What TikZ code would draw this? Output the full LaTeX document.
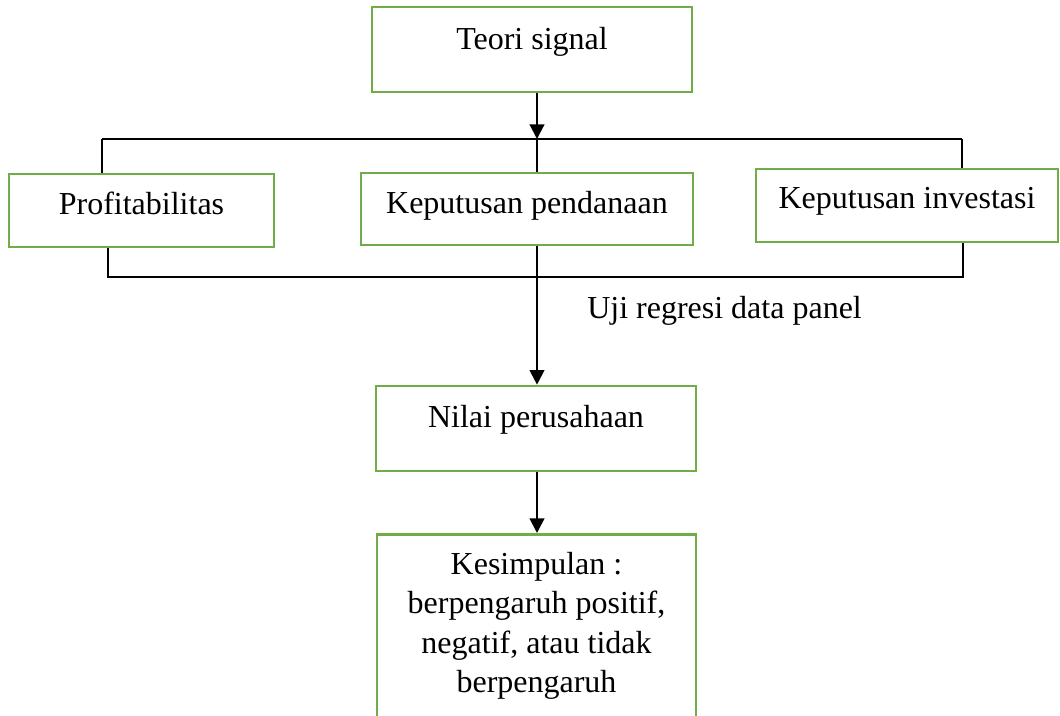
\documentclass[tikz,border=0pt]{standalone}
\usepackage{fontspec}
\setmainfont{Liberation Serif}
\usetikzlibrary{arrows.meta}
\definecolor{boxgreen}{RGB}{112,173,71}
\tikzset{
  greenbox/.style={draw=boxgreen, line width=2pt, rectangle, inner sep=0pt, fill=white,
    font=\fontsize{24}{29.5}\selectfont},
  thinline/.style={draw=black, line width=0.9pt},
  arrowline/.style={draw=black, line width=1.6pt, -{Triangle[length=11pt,width=11pt]}},
  plaintext/.style={inner sep=0pt, font=\fontsize{24}{29.5}\selectfont}
}
\begin{document}
\begin{tikzpicture}[x=0.75pt,y=-0.75pt]
\useasboundingbox (0,0) rectangle (1060,715);
\clip (0,0) rectangle (1060,715);
\fill[white] (0,0) rectangle (1060,715);

% boxes
\node[greenbox, minimum width=240pt, minimum height=63.75pt, text height=31.5pt, text depth=32.25pt] (ts) at (532,49.5) {Teori signal};
\node[greenbox, minimum width=198.75pt, minimum height=54.75pt, text height=30pt, text depth=24.75pt] (pr) at (141.5,210.5) {Profitabilitas};
\node[greenbox, minimum width=249pt, minimum height=54pt, text height=30pt, text depth=24pt] (kp) at (527,209) {Keputusan pendanaan};
\node[greenbox, minimum width=226.5pt, minimum height=54.75pt, text height=29.25pt, text depth=25.5pt] (ki) at (907,205.5) {Keputusan investasi};
\node[greenbox, minimum width=240pt, minimum height=63.75pt, text height=30.75pt, text depth=33pt] (np) at (536,428.5) {Nilai perusahaan};
\node[greenbox, anchor=north, minimum width=239.25pt, text height=30pt, text depth=150pt] (ks) at (536.5,533)
  {\begin{tabular}[t]{@{}c@{}}Kesimpulan :\\berpengaruh positif,\\negatif, atau tidak\\berpengaruh\end{tabular}};

% label
\node[plaintext, anchor=base west] (uji) at (587,318) {Uji regresi data panel};

% junction coordinates
\coordinate (jt) at (537,139);
\coordinate (tl) at (102,139);
\coordinate (tr) at (962,139);
\coordinate (jb) at (537,277);
\coordinate (bl) at (108,277);
\coordinate (br) at (963,277);

% top bus
\draw[arrowline] (ts.south -| jt) -- (jt);
\draw[thinline] (tl) -- (tr);
\draw[thinline] (tl) -- (tl |- pr.north);
\draw[thinline] (jt) -- (jt |- kp.north);
\draw[thinline] (tr) -- (tr |- ki.north);

% bottom bus
\draw[thinline] (pr.south -| bl) -- (bl) -- (br) -- (ki.south -| br);
\draw[thinline] (kp.south -| jb) -- (jb);

% arrows down
\draw[arrowline] (jb) -- (np.north -| jb);
\draw[arrowline] (np.south -| jb) -- (ks.north -| jb);
\end{tikzpicture}
\end{document}
